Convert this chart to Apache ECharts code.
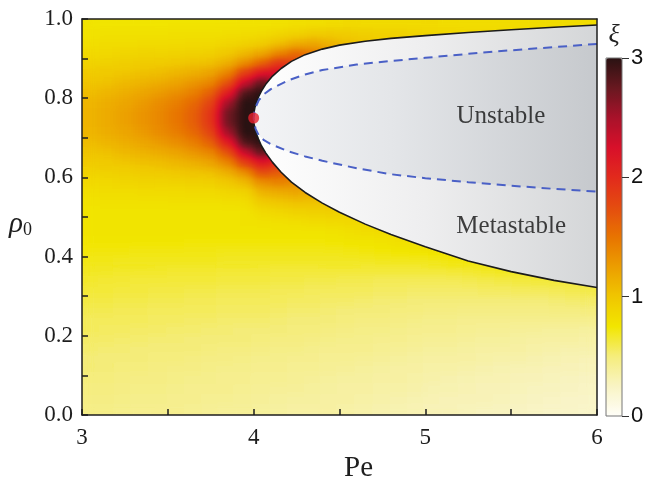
<!DOCTYPE html>
<html><head><meta charset="utf-8">
<script src="https://cdn.jsdelivr.net/npm/echarts@6/dist/echarts.min.js"></script>
<style>
html,body{margin:0;padding:0;background:#fff}
#wrap{position:relative;width:648px;height:478px;overflow:hidden}
.layer{position:absolute}
#heatBase,#heatClip{left:82px;top:19px;width:515px;height:396px}
#heatBase{filter:url(#cmap)}
#heatClip{overflow:hidden}
#heatBlur{left:0;top:0;width:515px;height:396px;filter:url(#soft)}
#chart{left:0;top:0;width:648px;height:478px}
</style>
</head><body>
<svg width="0" height="0" style="position:absolute">
  <filter id="soft" x="0" y="0" width="100%" height="100%" color-interpolation-filters="sRGB">
    <feGaussianBlur stdDeviation="5.5 3.5" edgeMode="duplicate"/>
    <feComponentTransfer class="ct"><feFuncR type="table"/><feFuncG type="table"/><feFuncB type="table"/></feComponentTransfer>
  </filter>
  <filter id="cmap" x="0" y="0" width="100%" height="100%" color-interpolation-filters="sRGB">
    <feComponentTransfer class="ct"><feFuncR type="table"/><feFuncG type="table"/><feFuncB type="table"/></feComponentTransfer>
  </filter>
</svg>
<div id="wrap">
  <div id="heatBase" class="layer"></div>
  <div id="heatClip" class="layer"><div id="heatBlur" class="layer"></div></div>
  <div id="chart" class="layer"></div>
</div>
<script>
// ---- data ----
const peCenters = [3.05,3.15,3.25,3.35,3.45,3.55,3.65,3.75,3.85,3.95,4.05,4.15,4.25,4.35,4.45,4.55,4.65,4.75,4.85,4.95,5.05,5.15,5.25,5.35,5.45,5.55,5.65,5.75,5.85,5.95];
// rows listed top (rho = 0.9875) to bottom (rho = 0.0125)
const rhoCenters = [0.9875,0.9625,0.9375,0.9125,0.8875,0.8625,0.8375,0.8125,0.7875,0.7625,0.7375,0.7125,0.6875,0.6625,0.6375,0.6125,0.5875,0.5625,0.5375,0.5125,0.4875,0.4625,0.4375,0.4125,0.3875,0.3625,0.3375,0.3125,0.2875,0.2625,0.2375,0.2125,0.1875,0.1625,0.1375,0.1125,0.0875,0.0625,0.0375,0.0125];
const xiRows = [
[0.76,0.77,0.77,0.77,0.77,0.77,0.77,0.77,0.77,0.78, 0.78,0.79,0.80,0.81,0.82,0.83,0.83,0.83,0.83,0.83,0.83,0.82,0.82,0.82,0.82,0.82,0.82,0.82,0.82,0.82],
[0.78,0.79,0.79,0.79,0.79,0.80,0.80,0.80,0.81,0.82, 0.84,0.87,0.91,0.95,0.96,0.95,0.93,0.92,0.90,0.89,0.88,0.87,0.86,0.86,0.85,0.85,0.85,0.85,0.85,0.85],
[0.81,0.82,0.82,0.83,0.83,0.84,0.85,0.85,0.88,0.90, 0.95,1.05,1.15,1.20,1.12,1.05,1.00,0.97,0.95,0.93,0.92,0.90,0.90,0.90,0.90,0.90,0.90,0.90,0.90,0.90],
[0.85,0.86,0.87,0.88,0.89,0.90,0.92,0.93,0.98,1.08, 1.20,1.40,1.55,1.45,1.30,1.20,1.10,1.00,1.00,1.00,1.00,1.00,1.00,1.00,1.00,1.00,1.00,1.00,1.00,1.00],
[0.90,0.92,0.93,0.95,0.97,0.99,1.02,1.05,1.15,1.35, 1.60,1.90,1.80,1.60,1.40,1.20,1.10,1.00,1.00,1.00,1.00,1.00,1.00,1.00,1.00,1.00,1.00,1.00,1.00,1.00],
[0.96,0.98,1.00,1.03,1.06,1.10,1.15,1.22,1.40,1.85, 2.20,2.30,2.00,1.80,1.50,1.20,1.10,1.00,1.00,1.00,1.00,1.00,1.00,1.00,1.00,1.00,1.00,1.00,1.00,1.00],
[1.01,1.04,1.08,1.12,1.17,1.22,1.30,1.40,1.70,2.35, 2.80,2.40,2.00,1.80,1.50,1.20,1.10,1.00,1.00,1.00,1.00,1.00,1.00,1.00,1.00,1.00,1.00,1.00,1.00,1.00],
[1.06,1.10,1.15,1.20,1.27,1.34,1.44,1.62,2.10,2.85, 3.10,2.40,2.00,1.80,1.50,1.20,1.10,1.00,1.00,1.00,1.00,1.00,1.00,1.00,1.00,1.00,1.00,1.00,1.00,1.00],
[1.10,1.15,1.20,1.27,1.35,1.44,1.56,1.80,2.50,3.20, 3.20,2.40,2.00,1.80,1.50,1.20,1.10,1.00,1.00,1.00,1.00,1.00,1.00,1.00,1.00,1.00,1.00,1.00,1.00,1.00],
[1.12,1.17,1.23,1.30,1.38,1.48,1.62,1.90,2.70,3.30, 3.30,2.40,2.00,1.80,1.50,1.20,1.10,1.00,1.00,1.00,1.00,1.00,1.00,1.00,1.00,1.00,1.00,1.00,1.00,1.00],
[1.12,1.17,1.23,1.30,1.38,1.48,1.62,1.90,2.70,3.30, 3.30,2.40,2.00,1.80,1.50,1.20,1.10,1.00,1.00,1.00,1.00,1.00,1.00,1.00,1.00,1.00,1.00,1.00,1.00,1.00],
[1.10,1.15,1.20,1.27,1.35,1.44,1.56,1.80,2.50,3.20, 3.20,2.40,2.00,1.80,1.50,1.20,1.10,1.00,1.00,1.00,1.00,1.00,1.00,1.00,1.00,1.00,1.00,1.00,1.00,1.00],
[1.06,1.10,1.15,1.20,1.27,1.34,1.44,1.62,2.10,2.85, 3.10,2.40,2.00,1.80,1.50,1.20,1.10,1.00,1.00,1.00,1.00,1.00,1.00,1.00,1.00,1.00,1.00,1.00,1.00,1.00],
[1.01,1.04,1.08,1.12,1.17,1.22,1.30,1.40,1.70,2.35, 2.80,2.40,2.00,1.80,1.50,1.20,1.10,1.00,1.00,1.00,1.00,1.00,1.00,1.00,1.00,1.00,1.00,1.00,1.00,1.00],
[0.96,0.98,1.00,1.03,1.06,1.10,1.15,1.22,1.40,1.85, 2.20,2.00,2.00,1.80,1.50,1.20,1.10,1.00,1.00,1.00,1.00,1.00,1.00,1.00,1.00,1.00,1.00,1.00,1.00,1.00],
[0.90,0.92,0.93,0.95,0.97,0.99,1.02,1.05,1.15,1.35, 1.75,1.65,1.60,1.50,1.40,1.20,1.10,1.00,1.00,1.00,1.00,1.00,1.00,1.00,1.00,1.00,1.00,1.00,1.00,1.00],
[0.85,0.86,0.87,0.88,0.89,0.90,0.92,0.93,0.98,1.08, 1.35,1.42,1.35,1.30,1.20,1.10,1.00,1.00,1.00,1.00,1.00,1.00,1.00,1.00,1.00,1.00,1.00,1.00,1.00,1.00],
[0.81,0.82,0.82,0.83,0.83,0.84,0.85,0.85,0.88,0.90, 1.12,1.17,1.20,1.15,1.10,1.05,1.00,1.00,1.00,1.00,1.00,1.00,1.00,1.00,1.00,1.00,1.00,1.00,1.00,1.00],
[0.78,0.79,0.79,0.79,0.79,0.80,0.80,0.80,0.81,0.82, 0.97,1.00,1.03,1.03,1.00,0.97,0.95,0.93,0.92,0.90,0.90,0.90,0.90,0.90,0.90,0.90,0.90,0.90,0.90,0.90],
[0.76,0.77,0.77,0.77,0.77,0.77,0.77,0.77,0.77,0.78, 0.85,0.87,0.90,0.92,0.93,0.90,0.88,0.86,0.85,0.85,0.85,0.85,0.85,0.85,0.85,0.85,0.85,0.85,0.85,0.85],
[0.77,0.77,0.77,0.77,0.77,0.77,0.77,0.77,0.77,0.78, 0.79,0.80,0.81,0.83,0.85,0.86,0.86,0.85,0.84,0.83,0.82,0.82,0.82,0.82,0.82,0.82,0.82,0.82,0.82,0.82],
[0.76,0.76,0.76,0.76,0.76,0.76,0.76,0.76,0.76,0.76, 0.76,0.76,0.77,0.77,0.78,0.80,0.82,0.83,0.83,0.82,0.81,0.81,0.81,0.81,0.81,0.81,0.81,0.81,0.81,0.81],
[0.75,0.75,0.75,0.75,0.75,0.75,0.74,0.74,0.74,0.74, 0.74,0.74,0.74,0.74,0.75,0.76,0.77,0.78,0.80,0.80,0.79,0.78,0.78,0.78,0.78,0.78,0.78,0.78,0.78,0.78],
[0.73,0.73,0.73,0.72,0.72,0.72,0.72,0.72,0.71,0.71, 0.71,0.71,0.71,0.71,0.71,0.72,0.73,0.74,0.75,0.77,0.78,0.78,0.77,0.76,0.76,0.76,0.76,0.76,0.76,0.76],
[0.71,0.71,0.70,0.70,0.70,0.69,0.69,0.69,0.68,0.68, 0.68,0.68,0.68,0.68,0.68,0.68,0.68,0.69,0.69,0.70,0.71,0.73,0.74,0.74,0.73,0.72,0.72,0.72,0.72,0.72],
[0.68,0.68,0.67,0.67,0.67,0.66,0.66,0.66,0.65,0.65, 0.65,0.64,0.64,0.64,0.63,0.63,0.63,0.63,0.63,0.63,0.64,0.65,0.66,0.68,0.69,0.69,0.68,0.67,0.67,0.67],
[0.66,0.65,0.65,0.64,0.64,0.63,0.63,0.63,0.62,0.62, 0.62,0.61,0.61,0.60,0.60,0.59,0.59,0.58,0.58,0.58,0.58,0.58,0.59,0.60,0.61,0.62,0.63,0.64,0.64,0.63],
[0.63,0.63,0.62,0.62,0.61,0.61,0.60,0.60,0.59,0.59, 0.59,0.58,0.58,0.57,0.57,0.56,0.56,0.55,0.55,0.54,0.54,0.54,0.54,0.55,0.55,0.56,0.57,0.58,0.59,0.60],
[0.61,0.61,0.60,0.60,0.59,0.59,0.58,0.58,0.57,0.57, 0.57,0.56,0.55,0.55,0.54,0.54,0.53,0.52,0.52,0.51,0.51,0.50,0.50,0.50,0.50,0.51,0.51,0.52,0.53,0.54],
[0.59,0.59,0.58,0.58,0.57,0.57,0.56,0.56,0.55,0.55, 0.55,0.54,0.53,0.53,0.52,0.51,0.51,0.50,0.49,0.49,0.48,0.48,0.47,0.47,0.47,0.47,0.47,0.48,0.48,0.49],
[0.57,0.57,0.56,0.56,0.55,0.55,0.54,0.54,0.53,0.53, 0.53,0.52,0.51,0.51,0.50,0.49,0.48,0.48,0.47,0.46,0.45,0.45,0.44,0.44,0.43,0.43,0.43,0.43,0.43,0.44],
[0.56,0.55,0.55,0.54,0.54,0.53,0.53,0.52,0.52,0.51, 0.51,0.50,0.49,0.49,0.48,0.47,0.46,0.46,0.45,0.44,0.43,0.43,0.42,0.41,0.41,0.40,0.40,0.39,0.39,0.38],
[0.54,0.54,0.53,0.53,0.52,0.52,0.51,0.51,0.50,0.50, 0.49,0.48,0.48,0.47,0.46,0.45,0.45,0.44,0.43,0.42,0.41,0.41,0.40,0.39,0.39,0.38,0.37,0.37,0.36,0.35],
[0.53,0.52,0.52,0.51,0.51,0.50,0.50,0.49,0.48,0.48, 0.47,0.46,0.46,0.45,0.44,0.43,0.43,0.42,0.41,0.40,0.39,0.39,0.38,0.37,0.36,0.36,0.35,0.34,0.33,0.33],
[0.51,0.51,0.50,0.50,0.49,0.49,0.48,0.47,0.47,0.46, 0.45,0.45,0.44,0.43,0.42,0.42,0.41,0.40,0.39,0.38,0.37,0.37,0.36,0.35,0.34,0.34,0.33,0.32,0.31,0.30],
[0.50,0.50,0.49,0.49,0.48,0.47,0.47,0.46,0.45,0.45, 0.44,0.43,0.42,0.42,0.41,0.40,0.39,0.38,0.37,0.36,0.35,0.35,0.34,0.33,0.32,0.31,0.31,0.30,0.29,0.28],
[0.49,0.49,0.48,0.47,0.47,0.46,0.45,0.45,0.44,0.43, 0.42,0.42,0.41,0.40,0.39,0.38,0.38,0.37,0.36,0.35,0.34,0.33,0.32,0.31,0.31,0.30,0.29,0.28,0.27,0.26],
[0.48,0.48,0.47,0.46,0.46,0.45,0.44,0.43,0.43,0.42, 0.41,0.40,0.40,0.39,0.38,0.37,0.36,0.35,0.35,0.34,0.32,0.32,0.31,0.30,0.29,0.28,0.27,0.27,0.26,0.25],
[0.47,0.47,0.46,0.45,0.45,0.44,0.43,0.42,0.42,0.41, 0.40,0.39,0.38,0.38,0.37,0.36,0.35,0.34,0.33,0.32,0.31,0.30,0.30,0.29,0.28,0.27,0.26,0.25,0.24,0.23],
[0.46,0.46,0.45,0.44,0.44,0.43,0.42,0.41,0.40,0.40, 0.39,0.38,0.37,0.37,0.36,0.35,0.34,0.33,0.32,0.31,0.30,0.29,0.28,0.27,0.27,0.26,0.25,0.24,0.23,0.22]
];
// binodal (solid black), Pe ascending
const binodalUpperPe  = [3.995,4.002,4.008,4.016,4.028,4.045,4.070,4.110,4.160,4.220,4.300,4.400,4.500,4.650,4.800,5.000,5.250,5.500,5.750,6.000];
const binodalUpperRho = [0.750,0.765,0.778,0.790,0.803,0.818,0.835,0.856,0.875,0.893,0.910,0.924,0.934,0.944,0.951,0.958,0.966,0.973,0.979,0.985];
const binodalLowerPe  = [4.002,4.008,4.016,4.028,4.045,4.070,4.110,4.160,4.220,4.300,4.400,4.500,4.650,4.800,5.000,5.250,5.500,5.750,6.000];
const binodalLowerRho = [0.735,0.722,0.710,0.697,0.680,0.662,0.638,0.613,0.588,0.562,0.535,0.512,0.482,0.456,0.425,0.389,0.362,0.340,0.322];
// spinodal (blue dashed)
const spinodalUpperPe  = [4.000,4.004,4.012,4.030,4.060,4.100,4.200,4.300,4.400,4.600,4.800,5.000,5.250,5.500,5.750,6.000];
const spinodalUpperRho = [0.750,0.765,0.778,0.795,0.810,0.823,0.845,0.860,0.871,0.885,0.894,0.902,0.912,0.921,0.929,0.937];
const spinodalLowerPe  = [4.004,4.012,4.030,4.060,4.100,4.200,4.300,4.400,4.600,4.800,5.000,5.250,5.500,5.750,6.000];
const spinodalLowerRho = [0.735,0.722,0.706,0.694,0.684,0.666,0.653,0.642,0.623,0.608,0.598,0.588,0.579,0.571,0.564];
const criticalPoint = [4.0, 0.75];
const regionNames = ['Unstable', 'Metastable'];
const regionPe = [5.44, 5.50];
const regionRho = [0.754, 0.476];

// ---- styles ----
const colormap = ['#fffef8','#f9f4c4','#f5ed7c','#f2e600','#f0c600','#ec9e00','#e87400','#e44c10','#e22a1c','#d8102a','#a8122a','#681820','#2a1212'];
const serif = 'Liberation Serif';
const ink = '#1e1e1e';
const XI_MAX = 3;

// colour table for the SVG filters: grey level (xi / XI_MAX) -> colormap
const chan = k => colormap.map(h => (parseInt(h.slice(1 + 2 * k, 3 + 2 * k), 16) / 255).toFixed(4)).join(' ');
document.querySelectorAll('.ct').forEach(ct => {
  ct.querySelector('feFuncR').setAttribute('tableValues', chan(0));
  ct.querySelector('feFuncG').setAttribute('tableValues', chan(1));
  ct.querySelector('feFuncB').setAttribute('tableValues', chan(2));
});

// ---- build ----
const heatData = [];
xiRows.forEach((row, r) => row.forEach((v, c) => heatData.push([c, r, v])));
const binodalPath = binodalUpperPe.map((p, i) => [p, binodalUpperRho[i]]).reverse()
  .concat(binodalLowerPe.map((p, i) => [p, binodalLowerRho[i]]));
const spinodalPath = spinodalUpperPe.map((p, i) => [p, spinodalUpperRho[i]]).reverse()
  .concat(spinodalLowerPe.map((p, i) => [p, spinodalLowerRho[i]]));

// heat-map layers: cells are drawn as a grey scale of xi, then coloured (and softened) by the SVG filters
function heatOption() {
  return {
    animation: false,
    grid: { left: 0, top: 0, right: 0, bottom: 0, outerBoundsMode: 'none' },
    xAxis: { type: 'category', data: peCenters.map(String), show: false },
    yAxis: { type: 'category', data: rhoCenters.map(String), inverse: true, show: false },
    visualMap: { show: false, type: 'continuous', min: 0, max: XI_MAX, dimension: 2, inRange: { color: ['#000000', '#ffffff'] } },
    series: [{ type: 'heatmap', data: heatData, progressive: 0, silent: true, itemStyle: { borderWidth: 0 }, emphasis: { disabled: true } }]
  };
}
echarts.init(document.getElementById('heatBase')).setOption(heatOption());
echarts.init(document.getElementById('heatBlur')).setOption(heatOption());

function polygonSeries(path, stops, z) {
  return {
    type: 'custom', xAxisIndex: 0, yAxisIndex: 0, clip: true, silent: true, z: z,
    data: [0],
    renderItem: (params, api) => ({
      type: 'polygon',
      shape: { points: path.map(pt => api.coord(pt)) },
      style: { fill: new echarts.graphic.LinearGradient(0, 0, 1, 0, stops), stroke: null }
    })
  };
}

const axisLineStyle = { color: ink, width: 1.5 };
const frameAxis = { min: 0, max: 1, z: 10, axisLine: { show: true, onZero: false, lineStyle: axisLineStyle },
  axisTick: { show: false }, axisLabel: { show: false }, splitLine: { show: false } };
const chart = echarts.init(document.getElementById('chart'));
chart.setOption({
  animation: false,
  grid: [
    { left: 82, top: 19, width: 515, height: 396, outerBoundsMode: 'none' },
    { left: 606, top: 58, width: 16, height: 358, show: true, borderColor: '#777', borderWidth: 1, z: 10,
      backgroundColor: 'transparent', outerBoundsMode: 'none' }
  ],
  visualMap: {
    type: 'continuous', min: 0, max: XI_MAX, seriesIndex: [], dimension: 2,
    calculable: false, orient: 'vertical', left: 606, top: 58, itemWidth: 16, itemHeight: 358, padding: 0,
    inRange: { color: colormap }
  },
  xAxis: [
    { type: 'value', gridIndex: 0, min: 3, max: 6, interval: 1, position: 'bottom', z: 10,
      axisLine: { show: true, onZero: false, lineStyle: axisLineStyle },
      axisTick: { show: true, inside: true, length: 6, lineStyle: axisLineStyle },
      minorTick: { show: true, splitNumber: 2, length: 6, lineStyle: axisLineStyle },
      splitLine: { show: false },
      axisLabel: { fontFamily: serif, fontSize: 23, color: ink, margin: 11 },
      name: 'Pe', nameLocation: 'middle', nameGap: 31,
      nameTextStyle: { fontFamily: serif, fontSize: 29, color: ink, padding: [0, 0, 0, 38] } },
    Object.assign({ type: 'value', gridIndex: 0, position: 'top' }, frameAxis, { min: 3, max: 6 }),
    { type: 'category', gridIndex: 1, data: ['bar'], show: false }
  ],
  yAxis: [
    { type: 'value', gridIndex: 0, min: 0, max: 1, interval: 0.2, position: 'left', z: 10,
      axisLine: { show: true, onZero: false, lineStyle: axisLineStyle },
      axisTick: { show: true, inside: true, length: 6, lineStyle: axisLineStyle },
      minorTick: { show: true, splitNumber: 2, length: 6, lineStyle: axisLineStyle },
      splitLine: { show: false },
      axisLabel: { fontFamily: serif, fontSize: 23, color: ink, margin: 9, formatter: v => v.toFixed(1) },
      name: '{r|ρ}{s|0}', nameLocation: 'middle', nameRotate: 0, nameGap: 50,
      nameTextStyle: { padding: [14, 0, 0, 0], rich: {
        r: { fontFamily: serif, fontStyle: 'italic', fontSize: 29, color: ink },
        s: { fontFamily: serif, fontSize: 18, color: ink, padding: [12, 0, 0, 0] } } } },
    Object.assign({ type: 'value', gridIndex: 0, position: 'right' }, frameAxis),
    { type: 'value', gridIndex: 1, min: 0, max: XI_MAX, interval: 1, position: 'right', z: 10,
      axisLine: { show: false }, splitLine: { show: false },
      axisTick: { show: true, length: 7, lineStyle: { color: '#333', width: 1 } },
      axisLabel: { fontFamily: 'Liberation Sans', fontSize: 22, color: '#111', margin: 9 },
      name: 'ξ', nameLocation: 'end', nameGap: 10,
      nameTextStyle: { fontFamily: serif, fontStyle: 'italic', fontSize: 26, color: '#222', padding: [0, 16, 0, 0] } }
  ],
  series: [
    polygonSeries(binodalPath, [{offset: 0, color: '#ffffff'}, {offset: 0.5, color: '#eeeeef'}, {offset: 1, color: '#d4d6d8'}], 2),
    polygonSeries(spinodalPath, [{offset: 0, color: '#f3f4f6'}, {offset: 0.4, color: '#e4e6e9'}, {offset: 1, color: '#c6c9cd'}], 3),
    { type: 'line', xAxisIndex: 0, yAxisIndex: 0, data: binodalPath, showSymbol: false, symbol: 'none', clip: true, z: 4, silent: true,
      lineStyle: { color: '#1b1b1b', width: 1.6 } },
    { type: 'line', xAxisIndex: 0, yAxisIndex: 0, data: spinodalPath, showSymbol: false, symbol: 'none', clip: true, z: 5, silent: true,
      lineStyle: { color: '#4a60c6', width: 2, type: [9, 6] } },
    { type: 'scatter', xAxisIndex: 0, yAxisIndex: 0, data: [criticalPoint], symbolSize: 11, z: 6, silent: true,
      itemStyle: { color: '#e8202d' } },
    { type: 'scatter', xAxisIndex: 0, yAxisIndex: 0, symbolSize: 0, z: 7, silent: true,
      data: regionNames.map((n, i) => ({ name: n, value: [regionPe[i], regionRho[i]] })),
      label: { show: true, position: 'inside', formatter: '{b}', fontFamily: serif, fontSize: 25, color: '#111' } }
  ]
});
</script></body></html>
